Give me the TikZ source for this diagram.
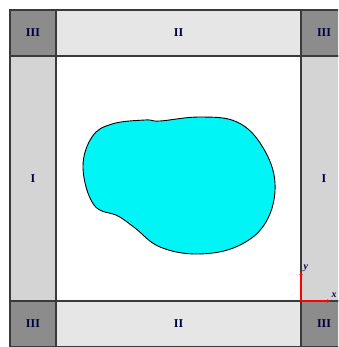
\documentclass[tikz,border=0pt]{standalone}
\usepackage{fontspec}
\setmainfont{Liberation Serif}
\usetikzlibrary{arrows.meta}
\definecolor{cornergray}{HTML}{8C8C8C}
\definecolor{sidegray}{HTML}{D4D4D4}
\definecolor{topgray}{HTML}{E6E6E6}
\definecolor{framegray}{HTML}{3A3A3A}
\definecolor{blobcyan}{HTML}{00F6F6}
\tikzset{
  cell/.style={draw=framegray, line width=1.6pt, inner sep=0pt, font=\fontsize{12}{14}\selectfont\bfseries, text=black!75!blue},
  corner/.style={cell, fill=cornergray, minimum width=46pt, minimum height=46pt},
  vside/.style={cell, fill=sidegray, minimum width=46pt, minimum height=245pt},
  hside/.style={cell, fill=topgray, minimum width=245pt, minimum height=46pt},
  inner/.style={draw=framegray, line width=1.6pt, fill=white, minimum width=245pt, minimum height=245pt, inner sep=0pt},
  axis/.style={red, line width=1.1pt, -{Latex[length=4pt,width=3.5pt]}},
  axlabel/.style={font=\fontsize{10}{11}\selectfont\bfseries\itshape, text=black!70!blue, inner sep=0.5pt}
}
\begin{document}
\begin{tikzpicture}[x=1pt,y=-1pt]
\useasboundingbox (0,0) rectangle (338,347);
\clip (0,0) rectangle (338,347);
\fill[white] (0,0) rectangle (338,347);
% corners
\node[corner] (c1) at (33,33) {III};
\node[corner] (c2) at (324,33) {III};
\node[corner] (c3) at (33,324) {III};
\node[corner] (c4) at (324,324) {III};
% sides
\node[hside] (top) at (178.5,33) {II};
\node[hside] (bot) at (178.5,324) {II};
\node[vside] (left) at (33,178.5) {I};
\node[vside] (right) at (324,178.5) {I};
\node[inner] (mid) at (178.5,178.5) {};
% blob
\draw[fill=blobcyan, draw=black, line width=0.9pt] plot[smooth cycle, tension=0.65] coordinates {
  (83,168) (92,137) (112,124) (145,120) (160,121) (200,117) (237,122)
  (262,146) (275,183) (266,222) (238,246) (198,254) (160,247)
  (135,228) (118,216) (94,205)};
% axes
\coordinate (o) at (301,301);
\coordinate (ytip) at (301,271);
\coordinate (xtip) at (331,301);
\draw[axis] (o) -- (ytip);
\draw[axis] (o) -- (xtip);
\node[axlabel, anchor=west] (ylab) at (303,268) {y};
\node[axlabel, anchor=west] (xlab) at (331,295) {x};
\end{tikzpicture}
\end{document}
